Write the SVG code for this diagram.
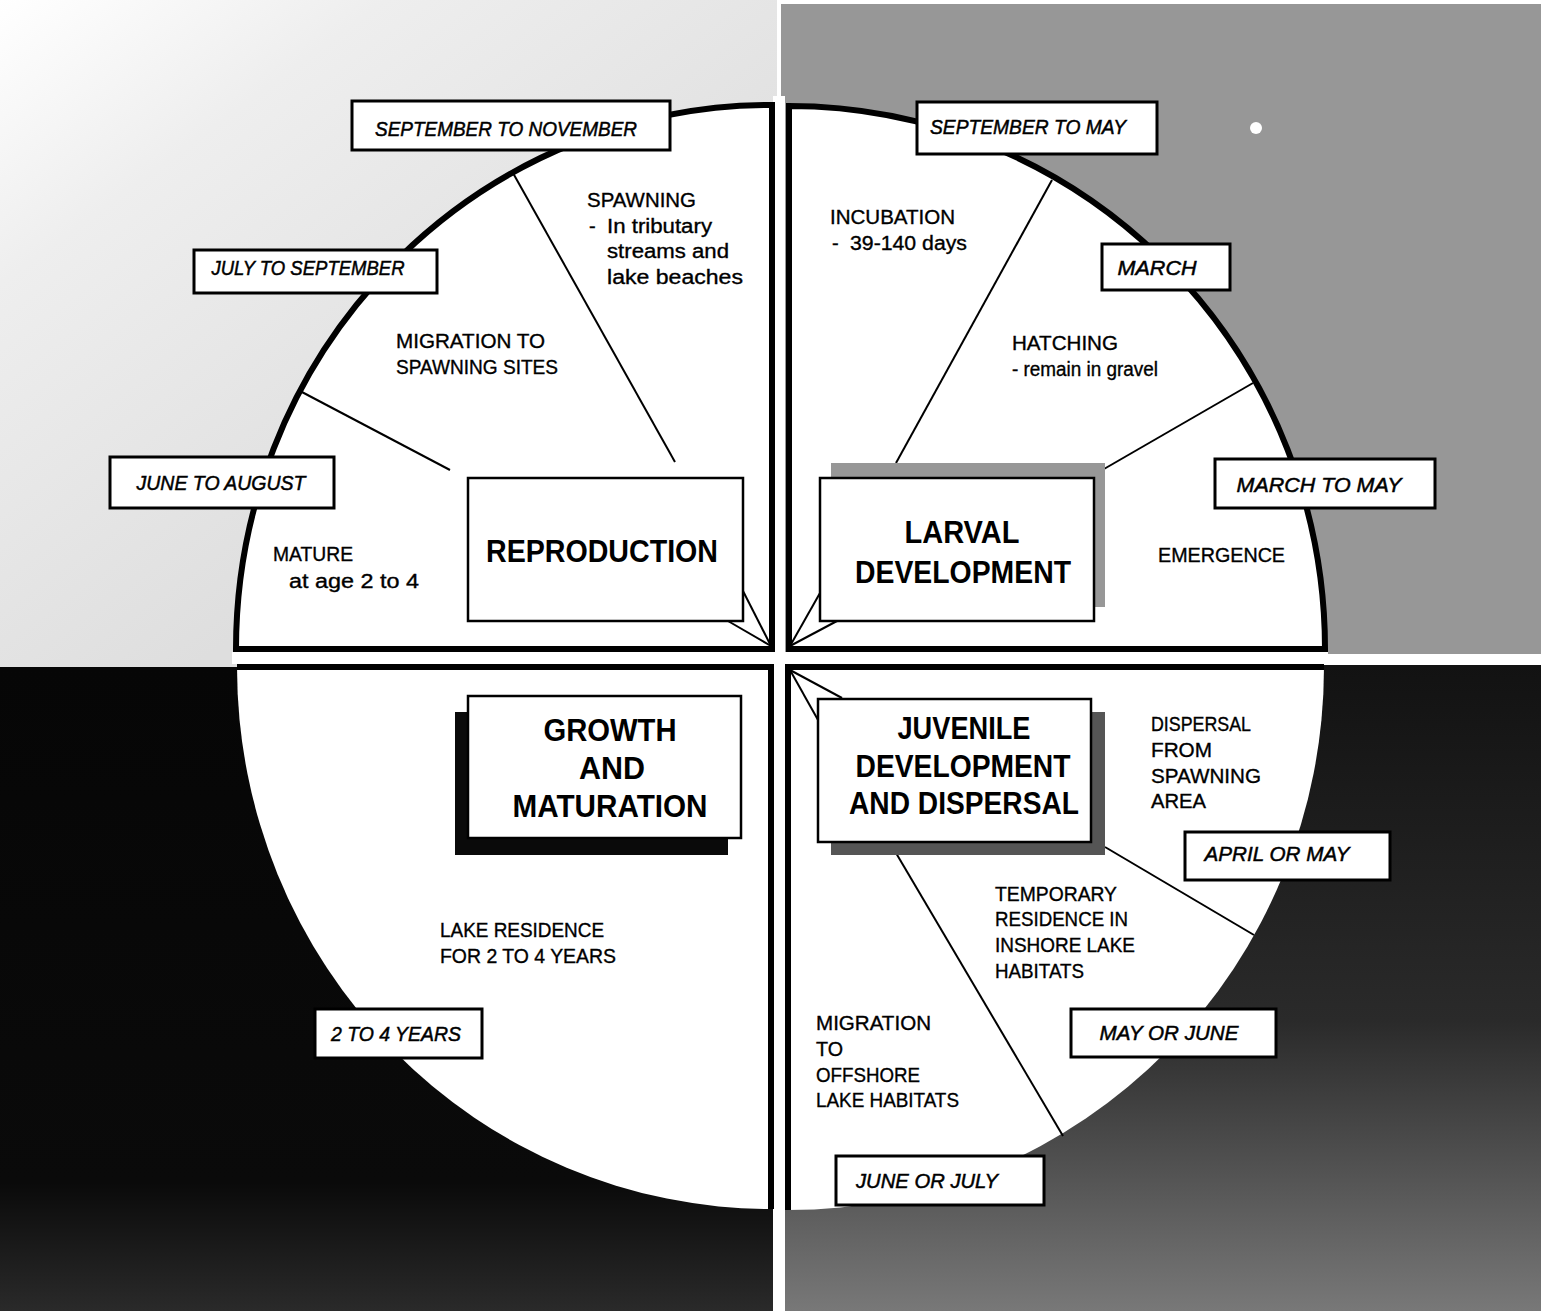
<svg xmlns="http://www.w3.org/2000/svg" width="1541" height="1311" viewBox="0 0 1541 1311">
  <defs>
    <linearGradient id="bgTL" x1="0" y1="0" x2="0.6" y2="0.7">
      <stop offset="0" stop-color="#ffffff"/>
      <stop offset="0.35" stop-color="#eeeeee"/>
      <stop offset="1" stop-color="#dedede"/>
    </linearGradient>
    <linearGradient id="bgBR" x1="0" y1="0" x2="0" y2="1">
      <stop offset="0" stop-color="#121212"/>
      <stop offset="0.55" stop-color="#2a2a2a"/>
      <stop offset="1" stop-color="#787878"/>
    </linearGradient>
    <linearGradient id="bgBL" x1="0" y1="0" x2="0" y2="1">
      <stop offset="0" stop-color="#060606"/>
      <stop offset="0.8" stop-color="#0a0a0a"/>
      <stop offset="1" stop-color="#2a2a2a"/>
    </linearGradient>
    <style>
      .quad { fill: #ffffff; }
      .rim { fill: none; stroke: #000; stroke-width: 6; stroke-linejoin: miter; }
      .div { fill: none; stroke: #000; stroke-width: 2; }
      .stage { fill: #ffffff; stroke: #000; stroke-width: 2.5; }
      .date { fill: #ffffff; stroke: #000; stroke-width: 3; }
      .title { font-family: "Liberation Sans", Arial, sans-serif; font-weight: bold; font-size: 31px; fill: #000; text-anchor: middle; }
      .when { font-family: "Liberation Sans", Arial, sans-serif; font-style: italic; font-size: 21px; fill: #000; stroke: #000; stroke-width: 0.5; text-anchor: middle; }
      .note { font-family: "Liberation Sans", Arial, sans-serif; font-size: 20px; fill: #000; stroke: #000; stroke-width: 0.35; }
    </style>
  </defs>

  <!-- backdrop: four shaded fields around the cycle wheel -->
  <rect x="0" y="0" width="1541" height="1311" fill="#ffffff"/>
  <rect x="0" y="0" width="777" height="667" fill="url(#bgTL)"/>
  <rect x="781" y="4" width="760" height="650" fill="#979797"/>
  <circle cx="1256" cy="128" r="6" fill="#ffffff"/>
  <rect x="0" y="667" width="773" height="644" fill="url(#bgBL)"/>
  <rect x="780" y="665" width="761" height="646" fill="url(#bgBR)"/>
  <!-- white gaps between quadrants -->
  <rect x="773" y="96" width="12" height="1215" fill="#ffffff"/>
  <rect x="232" y="652" width="1096" height="12" fill="#ffffff"/>

  <!-- quadrant: reproduction -->
  <g id="q-reproduction">
    <path class="quad" d="M772,649 L236,649 A535,544 0 0 1 772,105 Z"/>
    <g class="div">
      <line x1="300" y1="391" x2="450" y2="470"/>
      <line x1="513" y1="173" x2="675" y2="462"/>
      <line x1="743" y1="591" x2="771" y2="646"/>
      <line x1="728" y1="621" x2="771" y2="646"/>
    </g>
    <path class="rim" d="M772,649 L236,649 A535,544 0 0 1 772,105 Z"/>
  </g>

  <!-- quadrant: larval development -->
  <g id="q-larval">
    <path class="quad" d="M789,649 L789,106 A536,543 0 0 1 1325,649 Z"/>
    <g class="div">
      <line x1="1052" y1="180" x2="896" y2="463"/>
      <line x1="1253" y1="383" x2="1104" y2="469"/>
      <line x1="820" y1="593" x2="790" y2="646"/>
      <line x1="837" y1="621" x2="790" y2="646"/>
    </g>
    <path class="rim" d="M789,649 L789,106 A536,543 0 0 1 1325,649 Z"/>
  </g>

  <!-- quadrant: growth and maturation -->
  <g id="q-growth">
    <path class="quad" d="M771,667 L771,1209 A534,542 0 0 1 237,667 Z"/>
    <path class="rim" d="M237,667 L771,667 L771,1209"/>
  </g>

  <!-- quadrant: juvenile development and dispersal -->
  <g id="q-juvenile">
    <path class="quad" d="M788,667 L1324,667 A536,543 0 0 1 788,1210 Z"/>
    <g class="div">
      <line x1="1105" y1="847" x2="1254" y2="935"/>
      <line x1="896" y1="853" x2="1063" y2="1136"/>
      <line x1="790" y1="670" x2="842" y2="698"/>
      <line x1="790" y1="670" x2="818" y2="720"/>
    </g>
    <path class="rim" d="M1324,667 L788,667 L788,1210"/>
  </g>

  <!-- stage boxes -->
  <g id="n-reproduction">
    <rect class="stage" x="468" y="478" width="275" height="143"/>
    <text class="title" x="602" y="562" textLength="232" lengthAdjust="spacingAndGlyphs">REPRODUCTION</text>
  </g>
  <g id="n-larval">
    <rect x="831" y="463" width="274" height="144" fill="#979797"/>
    <rect class="stage" x="820" y="478" width="274" height="143"/>
    <text class="title" x="962" y="543" textLength="115" lengthAdjust="spacingAndGlyphs">LARVAL</text>
    <text class="title" x="963" y="583" textLength="216" lengthAdjust="spacingAndGlyphs">DEVELOPMENT</text>
  </g>
  <g id="n-growth">
    <rect x="455" y="712" width="273" height="143" fill="#0a0a0a"/>
    <rect class="stage" x="468" y="696" width="273" height="142"/>
    <text class="title" x="610" y="741" textLength="133" lengthAdjust="spacingAndGlyphs">GROWTH</text>
    <text class="title" x="612" y="779" textLength="66" lengthAdjust="spacingAndGlyphs">AND</text>
    <text class="title" x="610" y="817" textLength="195" lengthAdjust="spacingAndGlyphs">MATURATION</text>
  </g>
  <g id="n-juvenile">
    <rect x="831" y="712" width="274" height="143" fill="#555555"/>
    <rect class="stage" x="818" y="699" width="273" height="143"/>
    <text class="title" x="964" y="739" textLength="133" lengthAdjust="spacingAndGlyphs">JUVENILE</text>
    <text class="title" x="963" y="777" textLength="215" lengthAdjust="spacingAndGlyphs">DEVELOPMENT</text>
    <text class="title" x="964" y="814" textLength="230" lengthAdjust="spacingAndGlyphs">AND DISPERSAL</text>
  </g>

  <!-- timing labels -->
  <g id="t-sep-nov">
    <rect class="date" x="352" y="101" width="318" height="49"/>
    <text class="when" x="506" y="136" textLength="262" lengthAdjust="spacingAndGlyphs">SEPTEMBER TO NOVEMBER</text>
  </g>
  <g id="t-jul-sep">
    <rect class="date" x="194" y="250" width="243" height="43"/>
    <text class="when" x="308" y="275" textLength="193" lengthAdjust="spacingAndGlyphs">JULY TO SEPTEMBER</text>
  </g>
  <g id="t-jun-aug">
    <rect class="date" x="110" y="457" width="224" height="51"/>
    <text class="when" x="221" y="490" textLength="169" lengthAdjust="spacingAndGlyphs">JUNE TO AUGUST</text>
  </g>
  <g id="t-sep-may">
    <rect class="date" x="917" y="102" width="240" height="52"/>
    <text class="when" x="1028" y="134" textLength="196" lengthAdjust="spacingAndGlyphs">SEPTEMBER TO MAY</text>
  </g>
  <g id="t-march">
    <rect class="date" x="1102" y="244" width="128" height="46"/>
    <text class="when" x="1157" y="275" textLength="79" lengthAdjust="spacingAndGlyphs">MARCH</text>
  </g>
  <g id="t-mar-may">
    <rect class="date" x="1215" y="459" width="220" height="49"/>
    <text class="when" x="1319" y="492" textLength="165" lengthAdjust="spacingAndGlyphs">MARCH TO MAY</text>
  </g>
  <g id="t-apr-may">
    <rect class="date" x="1185" y="832" width="205" height="48"/>
    <text class="when" x="1277" y="861" textLength="145" lengthAdjust="spacingAndGlyphs">APRIL OR MAY</text>
  </g>
  <g id="t-may-jun">
    <rect class="date" x="1071" y="1009" width="205" height="48"/>
    <text class="when" x="1169" y="1040" textLength="139" lengthAdjust="spacingAndGlyphs">MAY OR JUNE</text>
  </g>
  <g id="t-jun-jul">
    <rect class="date" x="836" y="1156" width="208" height="49"/>
    <text class="when" x="927" y="1188" textLength="142" lengthAdjust="spacingAndGlyphs">JUNE OR JULY</text>
  </g>
  <g id="t-2-4-years">
    <rect class="date" x="315" y="1009" width="167" height="49"/>
    <text class="when" x="396" y="1041" textLength="130" lengthAdjust="spacingAndGlyphs">2 TO 4 YEARS</text>
  </g>

  <!-- event notes -->
  <g id="notes-reproduction">
    <text class="note" x="587" y="207" textLength="109" lengthAdjust="spacingAndGlyphs">SPAWNING</text>
    <text class="note" x="589" y="233">-</text>
    <text class="note" x="607" y="233" textLength="105" lengthAdjust="spacingAndGlyphs">In tributary</text>
    <text class="note" x="607" y="258" textLength="122" lengthAdjust="spacingAndGlyphs">streams and</text>
    <text class="note" x="607" y="284" textLength="136" lengthAdjust="spacingAndGlyphs">lake beaches</text>
    <text class="note" x="396" y="348" textLength="149" lengthAdjust="spacingAndGlyphs">MIGRATION TO</text>
    <text class="note" x="396" y="374" textLength="162" lengthAdjust="spacingAndGlyphs">SPAWNING SITES</text>
    <text class="note" x="273" y="561" textLength="80" lengthAdjust="spacingAndGlyphs">MATURE</text>
    <text class="note" x="289" y="588" textLength="130" lengthAdjust="spacingAndGlyphs">at age 2 to 4</text>
  </g>
  <g id="notes-larval">
    <text class="note" x="830" y="224" textLength="125" lengthAdjust="spacingAndGlyphs">INCUBATION</text>
    <text class="note" x="832" y="250">-</text>
    <text class="note" x="850" y="250" textLength="117" lengthAdjust="spacingAndGlyphs">39-140 days</text>
    <text class="note" x="1012" y="350" textLength="106" lengthAdjust="spacingAndGlyphs">HATCHING</text>
    <text class="note" x="1012" y="376" textLength="146" lengthAdjust="spacingAndGlyphs">- remain in gravel</text>
    <text class="note" x="1158" y="562" textLength="127" lengthAdjust="spacingAndGlyphs">EMERGENCE</text>
  </g>
  <g id="notes-juvenile">
    <text class="note" x="1151" y="731" textLength="100" lengthAdjust="spacingAndGlyphs">DISPERSAL</text>
    <text class="note" x="1151" y="757" textLength="61" lengthAdjust="spacingAndGlyphs">FROM</text>
    <text class="note" x="1151" y="783" textLength="110" lengthAdjust="spacingAndGlyphs">SPAWNING</text>
    <text class="note" x="1151" y="808" textLength="55" lengthAdjust="spacingAndGlyphs">AREA</text>
    <text class="note" x="995" y="901" textLength="122" lengthAdjust="spacingAndGlyphs">TEMPORARY</text>
    <text class="note" x="995" y="926" textLength="133" lengthAdjust="spacingAndGlyphs">RESIDENCE IN</text>
    <text class="note" x="995" y="952" textLength="140" lengthAdjust="spacingAndGlyphs">INSHORE LAKE</text>
    <text class="note" x="995" y="978" textLength="89" lengthAdjust="spacingAndGlyphs">HABITATS</text>
    <text class="note" x="816" y="1030" textLength="115" lengthAdjust="spacingAndGlyphs">MIGRATION</text>
    <text class="note" x="816" y="1056" textLength="27" lengthAdjust="spacingAndGlyphs">TO</text>
    <text class="note" x="816" y="1082" textLength="104" lengthAdjust="spacingAndGlyphs">OFFSHORE</text>
    <text class="note" x="816" y="1107" textLength="143" lengthAdjust="spacingAndGlyphs">LAKE HABITATS</text>
  </g>
  <g id="notes-growth">
    <text class="note" x="440" y="937" textLength="164" lengthAdjust="spacingAndGlyphs">LAKE RESIDENCE</text>
    <text class="note" x="440" y="963" textLength="176" lengthAdjust="spacingAndGlyphs">FOR 2 TO 4 YEARS</text>
  </g>
</svg>
